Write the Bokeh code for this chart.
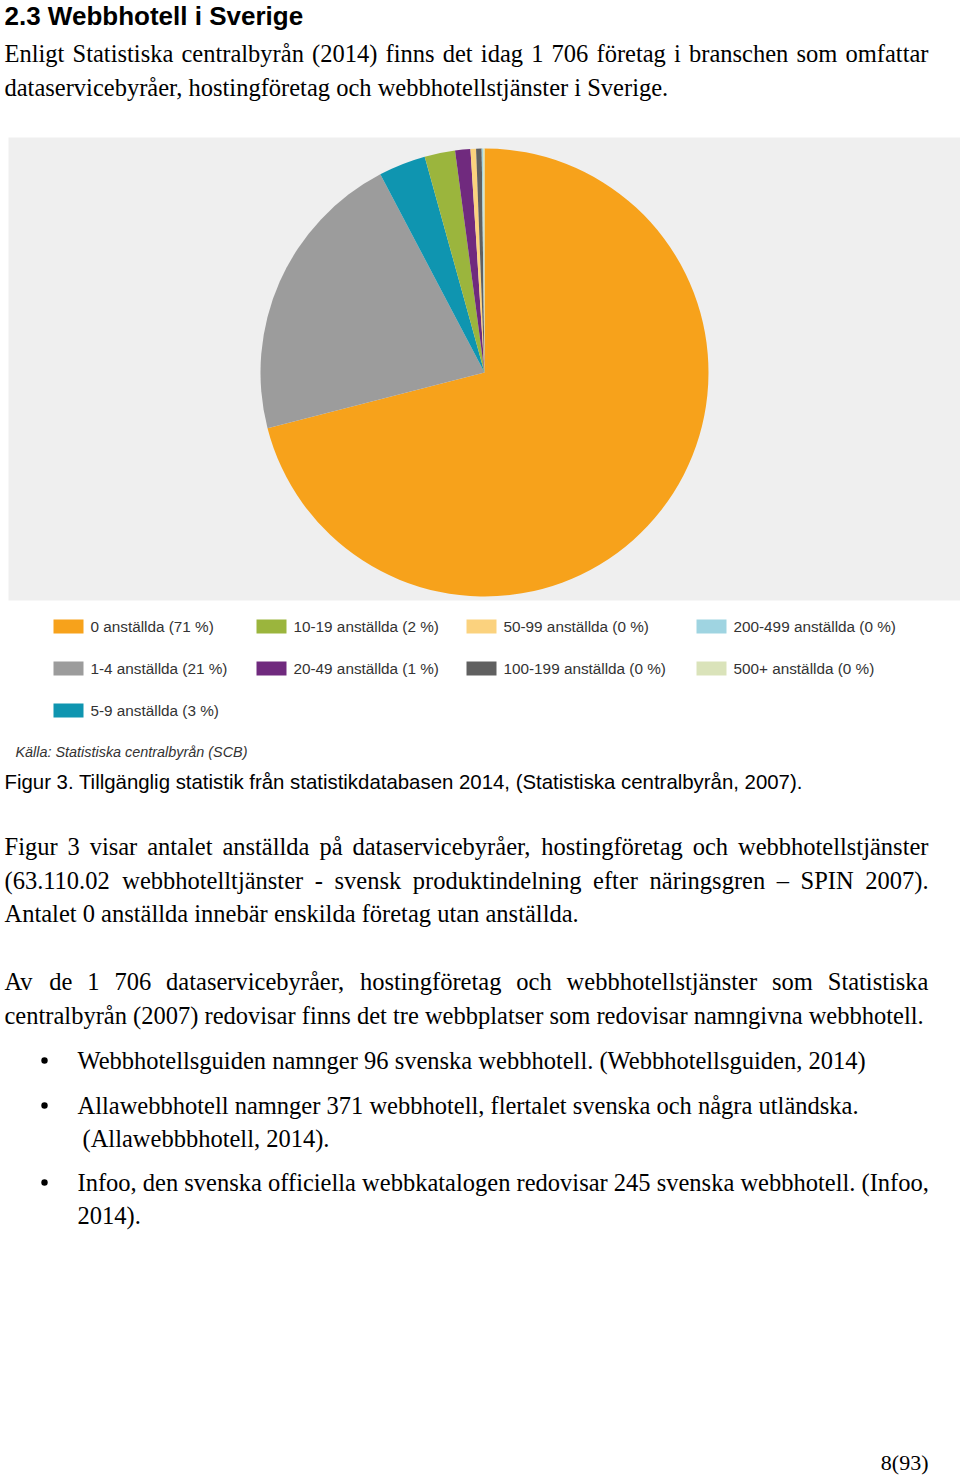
import math
from bokeh.plotting import figure
from bokeh.models import ColumnDataSource
from bokeh.core.properties import value
from bokeh.embed import file_html
from bokeh.resources import INLINE

# ---- data ----
categories = ["0", "1-4", "5-9", "10-19", "20-49", "50-99", "100-199", "200-499", "500+"]
shares = [71.0, 21.3, 3.4, 2.2, 1.1, 0.4, 0.4, 0.1, 0.1]
legend_pct = [71, 21, 3, 2, 1, 0, 0, 0, 0]
colors = ["#F7A21B", "#9C9C9C", "#0F95B0", "#9BB53D", "#702A7E", "#FBD27E", "#606060", "#9FD4E1", "#DAE3BA"]

title_text = "2.3 Webbhotell i Sverige"
intro_lines = [
    "Enligt Statistiska centralbyrån (2014) finns det idag 1 706 företag i branschen som omfattar",
    "dataservicebyråer, hostingföretag och webbhotellstjänster i Sverige.",
]
source_text = "Källa: Statistiska centralbyrån (SCB)"
caption_text = "Figur 3. Tillgänglig statistik från statistikdatabasen 2014, (Statistiska centralbyrån, 2007)."
para1_lines = [
    "Figur 3 visar antalet anställda på dataservicebyråer, hostingföretag och webbhotellstjänster",
    "(63.110.02 webbhotelltjänster - svensk produktindelning efter näringsgren – SPIN 2007).",
    "Antalet 0 anställda innebär enskilda företag utan anställda.",
]
para2_lines = [
    "Av de 1 706 dataservicebyråer, hostingföretag och webbhotellstjänster som Statistiska",
    "centralbyrån (2007) redovisar finns det tre webbplatser som redovisar namngivna webbhotell.",
]
bullets = [
    ["Webbhotellsguiden namnger 96 svenska webbhotell. (Webbhotellsguiden, 2014)"],
    ["Allawebbhotell namnger 371 webbhotell, flertalet svenska och några utländska.",
     "(Allawebbbhotell, 2014)."],
    ["Infoo, den svenska officiella webbkatalogen redovisar 245 svenska webbhotell. (Infoo,",
     "2014)."],
]
page_number = "8(93)"

W, H = 960, 1477
def Y(py):
    return H - py

p = figure(width=W, height=H, x_range=(0, W), y_range=(0, H),
           output_backend="svg", toolbar_location=None, min_border=0)
p.axis.visible = False
p.grid.visible = False
p.outline_line_color = None
p.background_fill_color = "white"
p.border_fill_color = "white"

SERIF = value("Liberation Serif")
SANS = value("Liberation Sans")
BODY = 24.5

# Times-Roman advance widths (per 1000 em) for justification
TW = {" ": 250, "(": 333, ")": 333, ",": 250, "-": 333, ".": 250, ":": 278, "–": 500,
      "A": 722, "B": 667, "C": 667, "D": 722, "E": 611, "F": 556, "G": 722, "H": 722, "I": 333,
      "J": 389, "K": 722, "L": 611, "M": 889, "N": 722, "O": 722, "P": 556, "Q": 722, "R": 667,
      "S": 556, "T": 611, "U": 722, "V": 722, "W": 944, "X": 722, "Y": 722, "Z": 611,
      "a": 444, "b": 500, "c": 444, "d": 500, "e": 444, "f": 333, "g": 500, "h": 500, "i": 278,
      "j": 278, "k": 500, "l": 278, "m": 778, "n": 500, "o": 500, "p": 500, "q": 500, "r": 333,
      "s": 389, "t": 278, "u": 500, "v": 500, "w": 722, "x": 500, "y": 500, "z": 444,
      "å": 444, "ä": 444, "ö": 500, "é": 444}
def tw(s, size):
    return sum(TW.get(ch, 500) for ch in s) * size / 1000.0

# title
p.text(x=[4], y=[Y(15)], text=[title_text], text_font=SANS, text_font_style="bold",
       text_font_size="26px", text_color="#000000", text_baseline="middle")

def line_at(line, x, yc, justify_to=None, size=BODY):
    if justify_to is None:
        p.text(x=[x], y=[Y(yc)], text=[line], text_font=SERIF, text_font_size=f"{size}px",
               text_color="#000000", text_baseline="middle")
        return
    words = line.split(" ")
    total = sum(tw(w, size) for w in words)
    gap = (justify_to - x - total) / (len(words) - 1)
    xs, cx = [], x
    for w in words:
        xs.append(cx)
        cx += tw(w, size) + gap
    p.text(x=xs, y=[Y(yc)] * len(words), text=words, text_font=SERIF,
           text_font_size=f"{size}px", text_color="#000000", text_baseline="middle")

RIGHT = 928
line_at(intro_lines[0], 4, 53, RIGHT)
line_at(intro_lines[1], 4, 87)

# chart panel
p.quad(left=[8], right=[960], bottom=[Y(600)], top=[Y(137)], fill_color="#EFEFEF", line_color=None)

total = sum(shares)
starts, ends = [], []
cum = 0.0
for s in shares:
    starts.append(math.pi / 2 - 2 * math.pi * cum / total)
    cum += s
    ends.append(math.pi / 2 - 2 * math.pi * cum / total)
src = ColumnDataSource(dict(start=starts, end=ends, color=colors))
p.wedge(x=484, y=Y(372), radius=224, start_angle="start", end_angle="end",
        direction="clock", fill_color="color", line_color=None, source=src)

# legend
col_x = [53, 256, 466, 696]
row_y = [626, 668, 710]
col_of = [0, 0, 0, 1, 1, 2, 2, 3, 3]
row_of = [0, 1, 2, 0, 1, 0, 1, 0, 1]
lx = [col_x[c] for c in col_of]
ly = [Y(row_y[r]) for r in row_of]
labels = [f"{c} anställda ({v} %)" for c, v in zip(categories, legend_pct)]
p.rect(x=[v + 15 for v in lx], y=ly, width=30, height=14, fill_color=colors, line_color=None)
p.text(x=[v + 37 for v in lx], y=ly, text=labels, text_font=SANS,
       text_font_size="15.3px", text_color="#333333", text_baseline="middle")

p.text(x=[15], y=[Y(751)], text=[source_text], text_font=SANS, text_font_style="italic",
       text_font_size="14.4px", text_color="#333333", text_baseline="middle")

p.text(x=[4], y=[Y(781)], text=[caption_text], text_font=SANS,
       text_font_size="20.4px", text_color="#000000", text_baseline="middle")

line_at(para1_lines[0], 4, 846, RIGHT)
line_at(para1_lines[1], 4, 880, RIGHT)
line_at(para1_lines[2], 4, 913)
line_at(para2_lines[0], 4, 981, RIGHT)
line_at(para2_lines[1], 4, 1015)

bullet_ys = [[1060], [1105, 1138], [1182, 1215]]
bullet_x = [[77], [77, 82], [77, 77]]
for bl, ys, xs in zip(bullets, bullet_ys, bullet_x):
    p.circle(x=[44], y=[Y(ys[0])], radius=3.2, fill_color="#000000", line_color=None)
    for line, yy, xx in zip(bl, ys, xs):
        line_at(line, xx, yy)

p.text(x=[928], y=[Y(1462)], text=[page_number], text_font=SERIF, text_font_size="22px",
       text_color="#000000", text_baseline="middle", text_align="right")

open("out.html", "w").write(file_html(p, INLINE))
